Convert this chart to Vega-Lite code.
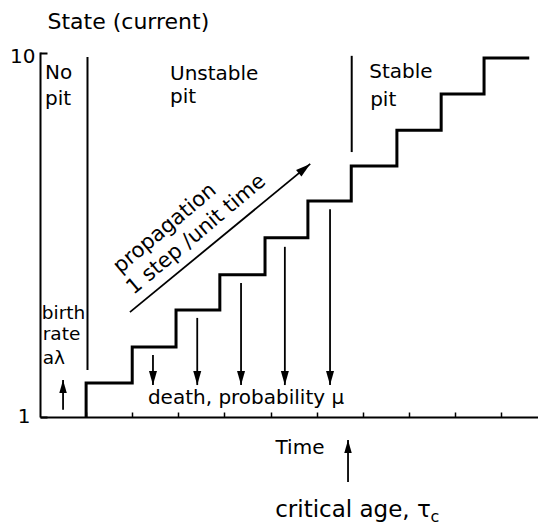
{
  "$schema": "https://vega.github.io/schema/vega-lite/v6.json",
  "width": 498,
  "height": 365,
  "autosize": {"type": "none"},
  "padding": {"left": 40, "top": 52, "right": 0, "bottom": 108},
  "background": "white",
  "config": {
    "font": "DejaVu Sans",
    "view": {"stroke": null},
    "axis": {"grid": false, "domainColor": "black", "tickColor": "black", "labelColor": "black", "titleColor": "black", "titleFontWeight": "normal"}
  },
  "datasets": {
    "stair": [
      {"i": 0, "x": 1.0, "y": 0},
      {"i": 1, "x": 1.0, "y": 0.95},
      {"i": 2, "x": 2.0, "y": 0.95},
      {"i": 3, "x": 2.0, "y": 1.95},
      {"i": 4, "x": 2.95, "y": 1.95},
      {"i": 5, "x": 2.95, "y": 2.98},
      {"i": 6, "x": 3.9, "y": 2.98},
      {"i": 7, "x": 3.9, "y": 3.96},
      {"i": 8, "x": 4.88, "y": 3.96},
      {"i": 9, "x": 4.88, "y": 4.99},
      {"i": 10, "x": 5.81, "y": 4.99},
      {"i": 11, "x": 5.81, "y": 6.02},
      {"i": 12, "x": 6.75, "y": 6.02},
      {"i": 13, "x": 6.75, "y": 6.99},
      {"i": 14, "x": 7.74, "y": 6.99},
      {"i": 15, "x": 7.74, "y": 7.99},
      {"i": 16, "x": 8.7, "y": 7.99},
      {"i": 17, "x": 8.7, "y": 9.0},
      {"i": 18, "x": 9.63, "y": 9.0},
      {"i": 19, "x": 9.63, "y": 10.0},
      {"i": 20, "x": 10.61, "y": 10.0}
    ],
    "dividers": [
      {"x": 1.03, "y": 1.31, "y2": 10.03},
      {"x": 6.76, "y": 7.38, "y2": 10.06}
    ],
    "arrows": [
      {"kind": "down", "x": 2.45, "y": 0.89, "x2": 2.45, "y2": 1.73},
      {"kind": "down", "x": 3.41, "y": 0.89, "x2": 3.41, "y2": 2.76},
      {"kind": "down", "x": 4.36, "y": 0.89, "x2": 4.36, "y2": 3.73},
      {"kind": "down", "x": 5.31, "y": 0.89, "x2": 5.31, "y2": 4.74},
      {"kind": "down", "x": 6.29, "y": 0.89, "x2": 6.29, "y2": 5.79},
      {"kind": "up", "x": 0.5, "y": 1.03, "x2": 0.5, "y2": 0.2},
      {"kind": "up", "x": 6.68, "y": -0.64, "x2": 6.68, "y2": -1.81},
      {"kind": "diag", "x": 5.86, "y": 7.05, "x2": 1.95, "y2": 2.92}
    ],
    "labels": [
      {"grp": "main", "label": "No", "x": 0.11, "y": 9.41},
      {"grp": "main", "label": "pit", "x": 0.11, "y": 8.69},
      {"grp": "main", "label": "Unstable", "x": 2.82, "y": 9.39},
      {"grp": "main", "label": "pit", "x": 2.82, "y": 8.75},
      {"grp": "main", "label": "Stable", "x": 7.14, "y": 9.44},
      {"grp": "main", "label": "pit", "x": 7.16, "y": 8.66},
      {"grp": "main", "label": "death, probability μ", "x": 2.34, "y": 0.36},
      {"grp": "birth", "label": "birth", "x": 0.04, "y": 2.73},
      {"grp": "birth", "label": "rate", "x": 0.06, "y": 2.14},
      {"grp": "birth", "label": "aλ", "x": 0.06, "y": 1.48},
      {"grp": "bottom", "label": "critical age, τ", "x": 5.1, "y": -2.79},
      {"grp": "sub", "label": "c", "x": 8.47, "y": -2.92},
      {"grp": "rot", "label": "propagation", "x": 2.71, "y": 5.25},
      {"grp": "rot", "label": "1 step /unit time", "x": 3.39, "y": 5.08}
    ]
  },
  "encoding": {
    "x": {
      "field": "x", "type": "quantitative",
      "scale": {"domain": [0, 10.8], "nice": false, "zero": false},
      "axis": {
        "title": "Time", "titleX": 235, "titleY": 36, "titleAlign": "left", "titleBaseline": "alphabetic",
        "titleFontSize": 20, "values": [1, 2, 3, 4, 5, 6, 7, 8, 9, 10], "labels": false,
        "tickSize": -5, "tickWidth": 1.5, "domainWidth": 2
      }
    },
    "y": {
      "field": "y", "type": "quantitative",
      "scale": {"domain": [0, 10.167], "nice": false, "zero": false},
      "axis": {
        "title": "State (current)", "titleX": 7, "titleY": -24, "titleAngle": 0, "titleAlign": "left",
        "titleBaseline": "alphabetic", "titleFontSize": 22,
        "values": [0, 10.14], "labelExpr": "datum.value == 0 ? '1' : '10'",
        "labelFontSize": 20, "labelBaseline": "alphabetic",
        "labelPadding": {"condition": {"test": "datum.value == 0", "value": 17}, "value": 12},
        "labelOffset": {"condition": {"test": "datum.value == 0", "value": 5}, "value": 10},
        "tickSize": -7, "tickWidth": 2, "domainWidth": 2
      }
    }
  },
  "layer": [
    {
      "data": {"name": "stair"},
      "mark": {"type": "line", "color": "black", "strokeWidth": 3, "strokeJoin": "miter"},
      "encoding": {"order": {"field": "i", "type": "quantitative"}}
    },
    {
      "data": {"name": "dividers"},
      "mark": {"type": "rule", "color": "black", "strokeWidth": 2},
      "encoding": {"y2": {"field": "y2"}}
    },
    {
      "data": {"name": "arrows"},
      "mark": {"type": "rule", "color": "black", "strokeWidth": 1.8},
      "encoding": {"x2": {"field": "x2"}, "y2": {"field": "y2"}}
    },
    {
      "data": {"name": "arrows"},
      "transform": [{"filter": "datum.kind == 'down'"}],
      "mark": {"type": "point", "shape": "M0,0L-1,3.5L1,3.5Z", "filled": true, "color": "black", "opacity": 1, "size": 64, "angle": 180}
    },
    {
      "data": {"name": "arrows"},
      "transform": [{"filter": "datum.kind == 'up'"}],
      "mark": {"type": "point", "shape": "M0,0L-1,3.5L1,3.5Z", "filled": true, "color": "black", "opacity": 1, "size": 56, "angle": 0}
    },
    {
      "data": {"name": "arrows"},
      "transform": [{"filter": "datum.kind == 'diag'"}],
      "mark": {"type": "point", "shape": "M0,0L-1,3.5L1,3.5Z", "filled": true, "color": "black", "opacity": 1, "size": 72, "angle": 50.6}
    },
    {
      "data": {"name": "labels"},
      "transform": [{"filter": "datum.grp == 'main'"}],
      "mark": {"type": "text", "align": "left", "baseline": "alphabetic", "fontSize": 20, "color": "black"},
      "encoding": {"text": {"field": "label"}}
    },
    {
      "data": {"name": "labels"},
      "transform": [{"filter": "datum.grp == 'birth'"}],
      "mark": {"type": "text", "align": "left", "baseline": "alphabetic", "fontSize": 18.5, "color": "black"},
      "encoding": {"text": {"field": "label"}}
    },
    {
      "data": {"name": "labels"},
      "transform": [{"filter": "datum.grp == 'bottom'"}],
      "mark": {"type": "text", "align": "left", "baseline": "alphabetic", "fontSize": 23, "color": "black"},
      "encoding": {"text": {"field": "label"}}
    },
    {
      "data": {"name": "labels"},
      "transform": [{"filter": "datum.grp == 'sub'"}],
      "mark": {"type": "text", "align": "left", "baseline": "alphabetic", "fontSize": 16, "color": "black"},
      "encoding": {"text": {"field": "label"}}
    },
    {
      "data": {"name": "labels"},
      "transform": [{"filter": "datum.grp == 'rot'"}],
      "mark": {"type": "text", "align": "center", "baseline": "middle", "fontSize": 21, "angle": -40, "color": "black"},
      "encoding": {"text": {"field": "label"}}
    }
  ]
}
